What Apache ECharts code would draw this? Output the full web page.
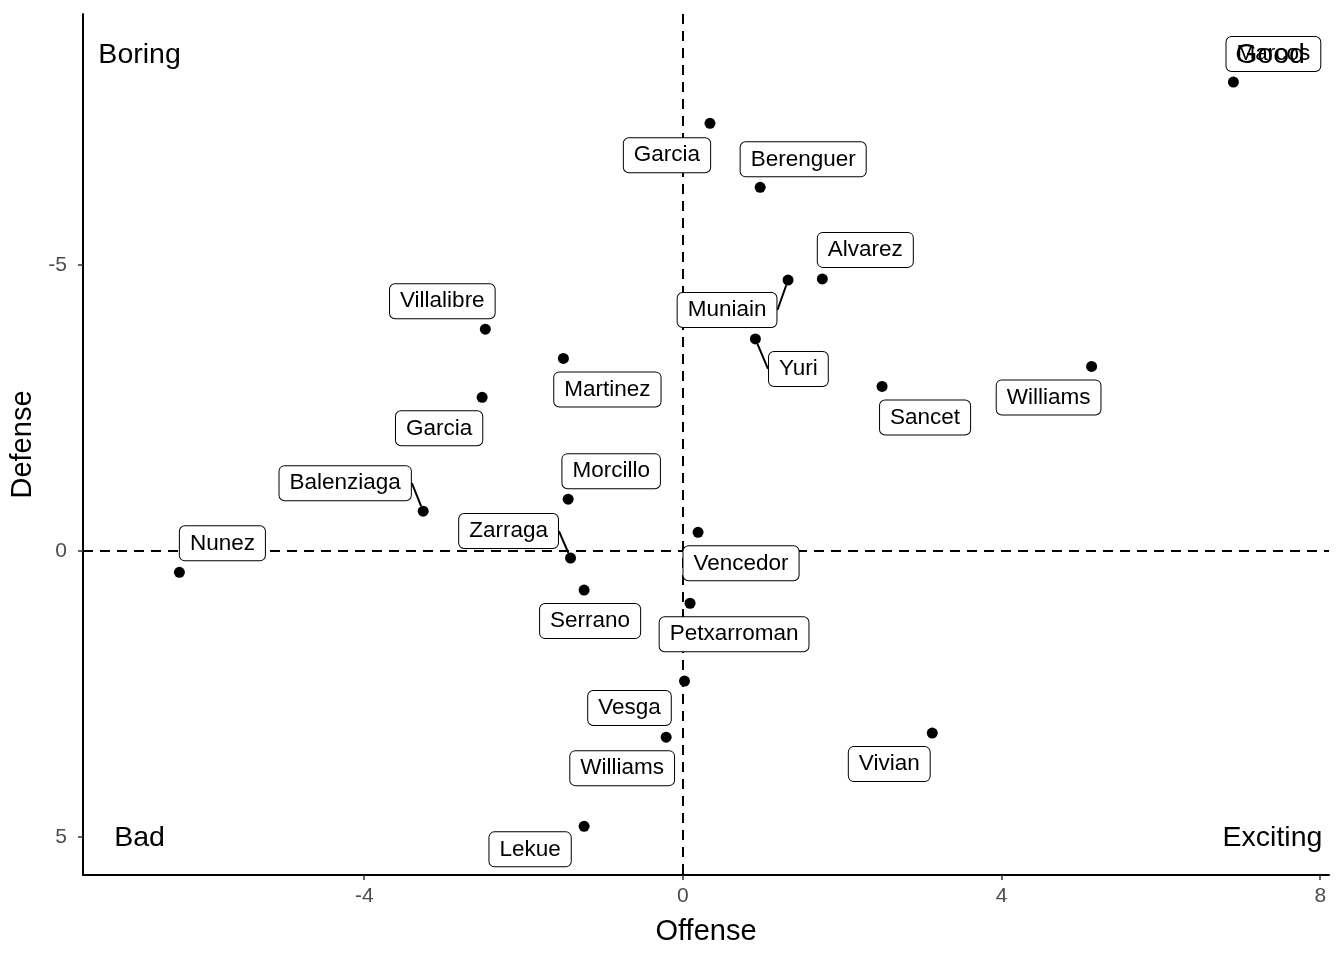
<!DOCTYPE html>
<html>
<head>
<meta charset="utf-8">
<script src="https://cdn.jsdelivr.net/npm/echarts@6/dist/echarts.min.js"></script>
<style>
html,body{margin:0;padding:0;background:#fff;}
#chart{width:1344px;height:960px;}
</style>
</head>
<body>
<div id="chart"></div>
<script>
// ---- data ----
var players = ['Marcos','Garcia','Berenguer','Alvarez','Muniain','Yuri','Villalibre','Martinez','Garcia','Sancet','Williams','Morcillo','Balenziaga','Vencedor','Zarraga','Nunez','Serrano','Petxarroman','Vesga','Williams','Vivian','Lekue'];
var offense = [6.91, 0.34, 0.97, 1.75, 1.32, 0.91, -2.48, -1.50, -2.52, 2.50, 5.13, -1.44, -3.26, 0.19, -1.41, -6.32, -1.24, 0.09, 0.02, -0.21, 3.13, -1.24];
var defense = [-8.20, -7.48, -6.36, -4.76, -4.74, -3.71, -3.88, -3.37, -2.69, -2.88, -3.23, -0.91, -0.70, -0.33, 0.12, 0.37, 0.68, 0.91, 2.27, 3.25, 3.18, 4.81];
var quadrantLabels = ['Boring','Good','Bad','Exciting'];
var quadrantX = [-6.82, 7.37, -6.82, 7.40];
var quadrantY = [-8.67, -8.67, 5.02, 5.02];
var xTicks = [-4, 0, 4, 8];
var yTicks = [-5, 0, 5];

// ---- layout (label placement in pixels relative to point, like ggrepel) ----
var labelNudge = [[40,-28],[-43,32],[43,-28],[43,-29],[-61,30],[43,30],[-43,-28],[44,31],[-43,31],[43,31],[-43,31],[43,-28],[-78,-28],[43,31],[-62,-27],[43,-29],[6,31],[44,31],[-55,27],[-44,31],[-43,31],[-54,23]];
var withSegment = [4, 5, 12, 14];
var FONT = 'Liberation Sans, Arial, Helvetica, sans-serif';

var chart = echarts.init(document.getElementById('chart'), null, {renderer: 'canvas'});

function buildSeries(indices, showLine) {
  return {
    type: 'scatter',
    symbol: 'circle',
    symbolSize: 11,
    itemStyle: {color: '#000', opacity: 1},
    silent: true,
    z: 5,
    data: indices.map(function (i) { return {name: players[i], value: [offense[i], defense[i]]}; }),
    label: {
      show: true,
      position: 'inside',
      formatter: '{b}',
      color: '#000',
      fontFamily: FONT,
      fontSize: 22.5,
      backgroundColor: '#fff',
      borderColor: '#000',
      borderWidth: 1,
      borderRadius: 5,
      padding: [6, 10, 5, 10],
      textBorderWidth: 0
    },
    labelLine: {show: showLine, lineStyle: {color: '#000', width: 2, opacity: 1}},
    labelLayout: function (params) {
      var i = indices[params.dataIndex];
      return {dx: labelNudge[i][0], dy: labelNudge[i][1], hideOverlap: false};
    }
  };
}

var allIdx = players.map(function (_, i) { return i; });
var plainIdx = allIdx.filter(function (i) { return withSegment.indexOf(i) < 0; });

var option = {
  animation: false,
  backgroundColor: '#fff',
  grid: {left: 83, right: 15, top: 14, bottom: 85, containLabel: false},
  xAxis: {
    type: 'value',
    min: -7.53, max: 8.11,
    name: 'Offense',
    nameLocation: 'middle',
    nameGap: 42,
    nameTextStyle: {color: '#000', fontSize: 29, fontFamily: FONT},
    axisLine: {show: true, onZero: false, lineStyle: {color: '#000', width: 2}},
    axisTick: {show: true, length: 5, customValues: xTicks, lineStyle: {color: '#333', width: 1.5}},
    axisLabel: {customValues: xTicks, color: '#4d4d4d', fontSize: 21, margin: 11, fontFamily: FONT},
    splitLine: {show: false}
  },
  yAxis: {
    type: 'value',
    inverse: true,
    min: -9.39, max: 5.66,
    name: 'Defense',
    nameLocation: 'middle',
    nameGap: 34,
    nameRotate: 90,
    nameTextStyle: {color: '#000', fontSize: 29, fontFamily: FONT},
    axisLine: {show: true, onZero: false, lineStyle: {color: '#000', width: 2}},
    axisTick: {show: true, length: 5, customValues: yTicks, lineStyle: {color: '#333', width: 1.5}},
    axisLabel: {customValues: yTicks, color: '#4d4d4d', fontSize: 21, margin: 16, fontFamily: FONT},
    splitLine: {show: false}
  },
  series: [
    {
      type: 'scatter',
      data: [],
      silent: true,
      z: 1,
      markLine: {
        silent: true,
        symbol: 'none',
        label: {show: false},
        lineStyle: {color: '#000', type: [10, 7], width: 2, opacity: 1},
        data: [{xAxis: 0}, {yAxis: 0}]
      }
    },
    buildSeries(plainIdx, false),
    buildSeries(withSegment, true),
    {
      type: 'scatter',
      symbolSize: 0,
      silent: true,
      z: 10,
      itemStyle: {opacity: 1},
      data: quadrantLabels.map(function (t, i) { return {name: t, value: [quadrantX[i], quadrantY[i]]}; }),
      label: {
        show: true,
        position: 'inside',
        formatter: '{b}',
        color: '#000',
        opacity: 1,
        fontSize: 28.5,
        fontFamily: FONT,
        textBorderWidth: 0
      }
    }
  ]
};
chart.setOption(option);
</script>
</body>
</html>
